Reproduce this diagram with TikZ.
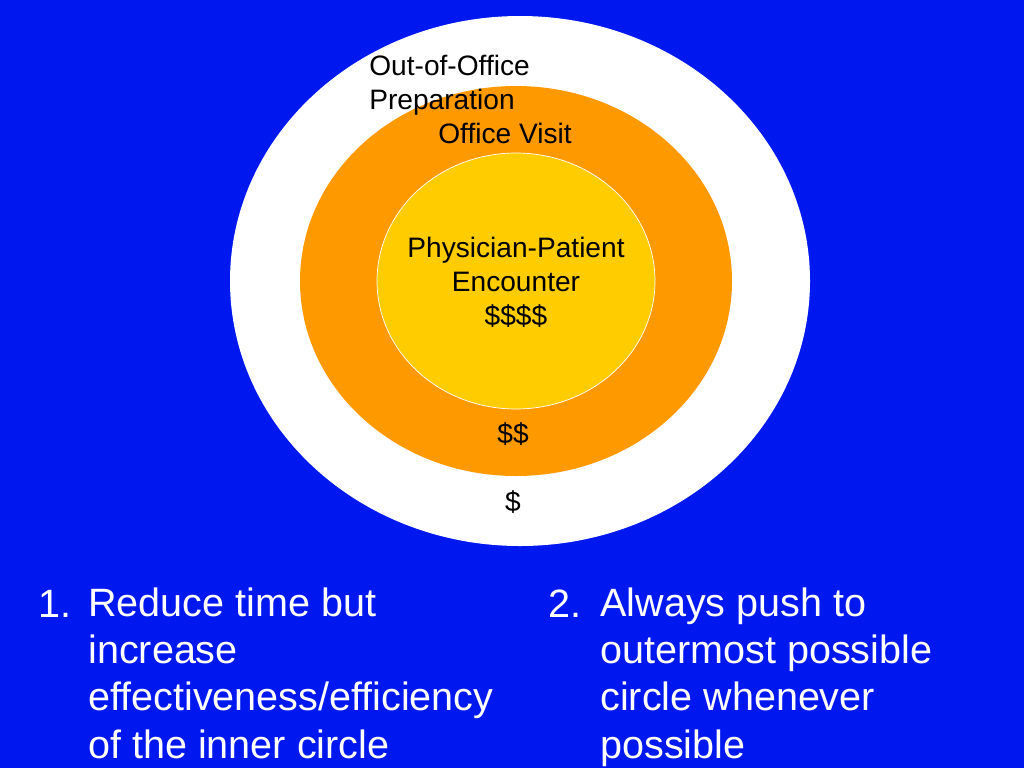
\documentclass[tikz,border=0pt]{standalone}
\usepackage{fontspec}
\setmainfont{Liberation Sans}
\definecolor{bgblue}{RGB}{0,24,240}
\definecolor{ringorange}{RGB}{255,153,0}
\definecolor{coreyellow}{RGB}{255,204,0}
\tikzset{
  small/.style={font=\fontsize{16}{19.3}\selectfont, align=center, inner sep=0pt},
  big/.style={font=\fontsize{22.5}{26.8}\selectfont, text=white, inner sep=0pt, anchor=base west, align=left}
}
\begin{document}
\begin{tikzpicture}[x=0.02cm, y=-0.02cm]
\fill [bgblue] (0,0) rectangle (1024,768);
\useasboundingbox (0,0) rectangle (1024,768);
\fill [white] (520,281) ellipse [x radius=290, y radius=265];
\fill [ringorange] (516,281) ellipse [x radius=216, y radius=195];
\draw [coreyellow, fill, draw=white, thin] (516,281) ellipse [x radius=139, y radius=128];
% base anchor of a multi-line node sits on its last line
\node [small, align=left, anchor=base west] (prep) at (369,109) {Out-of-Office\\Preparation};
\node [small, anchor=base] (visit) at (505,143) {Office Visit};
\node [small, anchor=base] (encounter) at (516,325) {Physician-Patient\\Encounter\\\$\$\$\$};
\node [small, anchor=base] (twodollar) at (513,443) {\$\$};
\node [small, anchor=base] (onedollar) at (513,511) {\$};
\node [big] (numone) at (38,617) {1.};
\node [big] (listone) at (88,758) {Reduce time but\\increase\\effectiveness/efficiency\\of the inner circle};
\node [big] (numtwo) at (548,617) {2.};
\node [big] (listtwo) at (600,758) {Always push to\\outermost possible\\circle whenever\\possible};
\end{tikzpicture}
\end{document}
